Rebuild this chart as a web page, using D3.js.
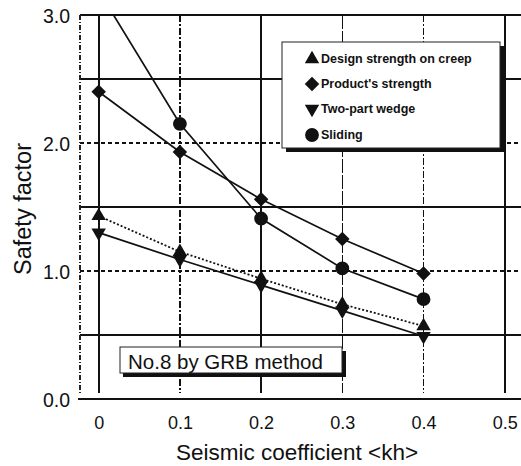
<!DOCTYPE html>
<html>
<head>
<meta charset="utf-8">
<script src="https://d3js.org/d3.v7.min.js"></script>
<style>
  body { margin: 0; background: #fff; }
  svg { font-family: "Liberation Sans", Arial, sans-serif; }
  .axis text { fill: #111; }
</style>
</head>
<body>
<svg width="521" height="466"></svg>
<script>
// data
var kh = [0, 0.1, 0.2, 0.3, 0.4];
var creep = [1.43, 1.15, 0.94, 0.74, 0.57];      // Design strength on creep
var product = [2.40, 1.93, 1.56, 1.25, 0.98];    // Product's strength
var wedge = [1.30, 1.09, 0.89, 0.69, 0.49];      // Two-part wedge
var sliding = [3.19, 2.15, 1.41, 1.02, 0.78];    // Sliding (first point is above 3.0)
var xTicks = [0, 0.1, 0.2, 0.3, 0.4, 0.5];
var xTickLabels = ["0", "0.1", "0.2", "0.3", "0.4", "0.5"];
var yTicks = [0, 1, 2, 3];
var legendNames = ["Design strength on creep", "Product's strength", "Two-part wedge", "Sliding"];

var svg = d3.select("svg");

// plot area edges (don't use "top", it is taken by window.top)
var pLeft = 80, pRight = 521, pTop = 15, pBottom = 399;

var x = d3.scaleLinear().domain([-0.023, 0.52]).range([pLeft, pRight]);
var y = d3.scaleLinear().domain([0, 3]).range([pBottom, pTop]);

// clip for the plot area
svg.append("clipPath").attr("id", "plot")
  .append("rect")
  .attr("x", pLeft).attr("y", pTop)
  .attr("width", pRight - pLeft).attr("height", pBottom - pTop);

var grid = svg.append("g").attr("shape-rendering", "crispEdges");

// vertical grid lines
var vStyle = [
  { w: 2, dash: null },
  { w: 1.5, dash: "7,2,2,2" },
  { w: 1.5, dash: null },
  { w: 1.5, dash: "14,2" },
  { w: 1.5, dash: "7,2,2,2" },
  { w: 2, dash: null }
];
grid.selectAll(".vline")
  .data(xTicks)
  .enter().append("line")
  .attr("class", "vline")
  .attr("x1", function(d) { return x(d); })
  .attr("x2", function(d) { return x(d); })
  .attr("y1", pTop)
  .attr("y2", pBottom - 6)
  .attr("stroke", "#111")
  .attr("stroke-width", function(d, i) { return vStyle[i].w; })
  .attr("stroke-dasharray", function(d, i) { return vStyle[i].dash; });

// horizontal grid lines: solid at the halves, dashed at whole numbers
var hLines = [0.5, 1, 1.5, 2, 2.5, 3];
grid.selectAll(".hline")
  .data(hLines)
  .enter().append("line")
  .attr("class", "hline")
  .attr("x1", pLeft)
  .attr("x2", pRight)
  .attr("y1", function(d) { return y(d); })
  .attr("y2", function(d) { return y(d); })
  .attr("stroke", "#111")
  .attr("stroke-width", function(d) { return d % 1 === 0 && d < 3 ? 2 : 1.5; })
  .attr("stroke-dasharray", function(d) { return d % 1 === 0 && d < 3 ? "4,3" : null; });

// left border (dotted)
grid.append("line")
  .attr("x1", pLeft).attr("x2", pLeft)
  .attr("y1", pTop).attr("y2", pBottom - 4)
  .attr("stroke", "#222")
  .attr("stroke-width", 1.5)
  .attr("stroke-dasharray", "5,2,1,2");

// bottom axis line
svg.append("line")
  .attr("x1", pLeft - 2).attr("x2", pRight)
  .attr("y1", pBottom).attr("y2", pBottom)
  .attr("stroke", "#111")
  .attr("stroke-width", 2)
  .attr("shape-rendering", "crispEdges");

// x axis labels
var xAxis = svg.append("g")
  .attr("class", "axis")
  .attr("transform", "translate(0," + pBottom + ")")
  .call(d3.axisBottom(x).tickValues(xTicks).tickSize(0).tickPadding(17)
    .tickFormat(function(d, i) { return xTickLabels[i]; }));
xAxis.select(".domain").remove();
xAxis.selectAll("text").attr("font-size", 18).attr("font-family", "Liberation Sans, Arial, sans-serif");

// y axis labels
var yAxis = svg.append("g")
  .attr("class", "axis")
  .attr("transform", "translate(" + pLeft + ",0)")
  .call(d3.axisLeft(y).tickValues(yTicks).tickSize(0).tickPadding(10)
    .tickFormat(d3.format(".1f")));
yAxis.select(".domain").remove();
yAxis.selectAll("text").attr("font-size", 19.5).attr("dy", "0.4em")
  .attr("font-family", "Liberation Sans, Arial, sans-serif");

// axis titles
svg.append("text")
  .attr("x", 297)
  .attr("y", 460)
  .attr("text-anchor", "middle")
  .attr("font-size", 22.5)
  .attr("fill", "#111")
  .text("Seismic coefficient <kh>");

svg.append("text")
  .attr("transform", "translate(31,209) rotate(-90)")
  .attr("text-anchor", "middle")
  .attr("font-size", 23.5)
  .attr("fill", "#111")
  .text("Safety factor");

// series
var triUp = d3.symbol().type(d3.symbolTriangle).size(90);
var diamond = d3.symbol().type(d3.symbolSquare).size(105);
var circle = d3.symbol().type(d3.symbolCircle).size(150);

var series = [
  { values: creep, dash: "2,2", sym: triUp, rot: 0 },
  { values: product, dash: null, sym: diamond, rot: 45 },
  { values: wedge, dash: null, sym: triUp, rot: 180 },
  { values: sliding, dash: null, sym: circle, rot: 0 }
];

var line = d3.line()
  .x(function(d, i) { return x(kh[i]); })
  .y(function(d) { return y(d); });

var plot = svg.append("g").attr("clip-path", "url(#plot)");

series.forEach(function(s) {
  plot.append("path")
    .datum(s.values)
    .attr("d", line)
    .attr("fill", "none")
    .attr("stroke", "#111")
    .attr("stroke-width", s.dash ? 1.8 : 1.7)
    .attr("stroke-dasharray", s.dash);
});

series.forEach(function(s) {
  plot.selectAll(null)
    .data(s.values)
    .enter().append("path")
    .attr("d", s.sym)
    .attr("transform", function(d, i) {
      return "translate(" + x(kh[i]) + "," + y(d) + ") rotate(" + s.rot + ")";
    })
    .attr("fill", "#111");
});

// legend box with shadow
var legend = svg.append("g");
legend.append("rect")
  .attr("x", 286).attr("y", 46).attr("width", 219).attr("height", 106)
  .attr("fill", "#111");
legend.append("rect")
  .attr("x", 282).attr("y", 42).attr("width", 218).attr("height", 106)
  .attr("fill", "#fff").attr("stroke", "#222").attr("stroke-width", 1);

var legendY = [59, 84, 109, 135];
legend.selectAll(".lsym")
  .data(series)
  .enter().append("path")
  .attr("d", function(d) { return d.sym(); })
  .attr("transform", function(d, i) {
    return "translate(312," + legendY[i] + ") rotate(" + d.rot + ")";
  })
  .attr("fill", "#111");
legend.selectAll(".ltext")
  .data(legendNames)
  .enter().append("text")
  .attr("x", 321)
  .attr("y", function(d, i) { return legendY[i] + 4; })
  .attr("font-size", 12.5)
  .attr("font-weight", "bold")
  .attr("fill", "#111")
  .text(function(d) { return d; });

// method label
var note = svg.append("g");
note.append("rect")
  .attr("x", 123).attr("y", 351).attr("width", 223).attr("height", 26)
  .attr("fill", "#111");
note.append("rect")
  .attr("x", 120).attr("y", 347).attr("width", 222).attr("height", 26)
  .attr("fill", "#fff").attr("stroke", "#222").attr("stroke-width", 1);
note.append("text")
  .attr("x", 128)
  .attr("y", 369)
  .attr("font-size", 20.5)
  .attr("fill", "#111")
  .text("No.8 by GRB method");
</script>
</body>
</html>
